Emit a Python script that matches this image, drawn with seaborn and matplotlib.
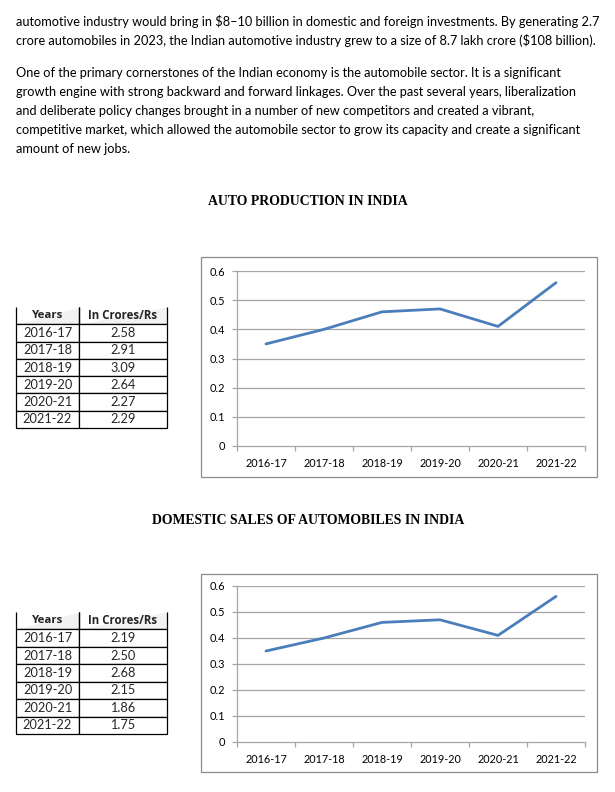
import matplotlib
matplotlib.use("Agg")
import matplotlib.pyplot as plt
import seaborn as sns
import pandas as pd
import numpy as np
from matplotlib.patches import Rectangle
from matplotlib.ticker import FixedLocator

sns.set_theme(style="white")
plt.rcParams['font.family'] = ['Lato', 'DejaVu Sans']

# ---------------- data ----------------
years = ["2016-17", "2017-18", "2018-19", "2019-20", "2020-21", "2021-22"]
production_line = [0.35, 0.40, 0.46, 0.47, 0.41, 0.56]
sales_line = [0.35, 0.40, 0.46, 0.47, 0.41, 0.56]
production_table = ["2.58", "2.91", "3.09", "2.64", "2.27", "2.29"]
sales_table = ["2.19", "2.50", "2.68", "2.15", "1.86", "1.75"]
table_header = ["Years", "In Crores/Rs"]
y_ticks = [0, 0.1, 0.2, 0.3, 0.4, 0.5, 0.6]
y_tick_labels = ["0", "0.1", "0.2", "0.3", "0.4", "0.5", "0.6"]
title1 = "AUTO PRODUCTION IN INDIA"
title2 = "DOMESTIC SALES OF AUTOMOBILES IN INDIA"
para_lines = [
    "automotive industry would bring in $8\u201310 billion in domestic and foreign investments. By generating 2.7",
    "crore automobiles in 2023, the Indian automotive industry grew to a size of 8.7 lakh crore ($108 billion).",
    "One of the primary cornerstones of the Indian economy is the automobile sector. It is a significant",
    "growth engine with strong backward and forward linkages. Over the past several years, liberalization",
    "and deliberate policy changes brought in a number of new competitors and created a vibrant,",
    "competitive market, which allowed the automobile sector to grow its capacity and create a significant",
    "amount of new jobs.",
]

W, H = 615, 792
fig = plt.figure(figsize=(W / 100, H / 100), dpi=100)
renderer = fig.canvas.get_renderer()

def rect(l, t, r, b):
    return [l / W, 1 - b / H, (r - l) / W, (b - t) / H]

# ---------------- paragraph text ----------------
para_y = [21.5, 40.5, 73, 92, 111, 130, 149]
t0 = fig.text(16 / W, 1 - para_y[0] / H, para_lines[0], fontsize=9, va="center", ha="left", color="black")
wpx = t0.get_window_extent(renderer).width
fs = 9 * 585 / wpx
t0.set_fontsize(fs)
for line, yy in zip(para_lines[1:], para_y[1:]):
    fig.text(16 / W, 1 - yy / H, line, fontsize=fs, va="center", ha="left", color="black")

# ---------------- titles ----------------
fig.text(308 / W, 1 - 202 / H, title1, fontsize=9.9, fontweight="bold",
         family="Liberation Serif", ha="center", va="center", color="black")
fig.text(308 / W, 1 - 520 / H, title2, fontsize=9.9, fontweight="bold",
         family="Liberation Serif", ha="center", va="center", color="black")

# ---------------- charts ----------------
GRID = "#a6a6a6"
LINE = "#4a7ebb"

def draw_chart(box, axrect, values):
    l, t, r, b = box
    fig.patches.append(Rectangle((l / W, 1 - b / H), (r - l) / W, (b - t) / H,
                                 transform=fig.transFigure, fill=False,
                                 edgecolor="#8c8c8c", linewidth=0.9, zorder=0))
    ax = fig.add_axes(axrect)
    df = pd.DataFrame({"Year": years, "Value": values})
    sns.lineplot(data=df, x="Year", y="Value", ax=ax, color=LINE, linewidth=2.0,
                 sort=False, zorder=3)
    ax.set_xlim(-0.5, len(years) - 0.5)
    ax.set_ylim(0, 0.6)
    ax.set_yticks(y_ticks)
    ax.set_yticklabels(y_tick_labels)
    ax.set_xticks(range(len(years)))
    ax.set_xticklabels(years)
    ax.xaxis.set_minor_locator(FixedLocator(np.arange(-0.5, len(years), 1.0)))
    ax.set_xlabel("")
    ax.set_ylabel("")
    for yv in y_ticks[1:]:
        ax.axhline(yv, color=GRID, linewidth=0.9, zorder=1)
    for s in ["top", "right"]:
        ax.spines[s].set_visible(False)
    for s in ["left", "bottom"]:
        ax.spines[s].set_color(GRID)
        ax.spines[s].set_linewidth(0.9)
    ax.tick_params(axis="y", which="major", length=3.5, width=0.9, color=GRID,
                   direction="out", pad=5, labelsize=7.9, labelcolor="black", left=True)
    ax.tick_params(axis="x", which="major", length=0, pad=8.5, labelsize=7.8,
                   labelcolor="black", bottom=True)
    ax.tick_params(axis="x", which="minor", length=3.5, width=0.9, color=GRID,
                   direction="out", bottom=True)
    ax.set_facecolor("none")
    ax.grid(False)
    return ax

draw_chart((201, 257, 597, 477), rect(237, 271, 585, 446), production_line)
draw_chart((201, 574, 597, 772), rect(237, 586, 585, 742), sales_line)

# ---------------- tables ----------------
header_target_px = [31, 69]

def draw_table(l, t, r, b, values):
    ax = fig.add_axes(rect(l, t, r, b))
    ax.axis("off")
    cell_text = [[y, v] for y, v in zip(years, values)]
    tb = ax.table(cellText=cell_text, colLabels=table_header, cellLoc="center",
                  colWidths=[63, 88], bbox=[0, 0, 1, 1])
    tb.auto_set_font_size(False)
    for (row, col), cell in tb.get_celld().items():
        cell.set_linewidth(0.9)
        cell.set_edgecolor("black")
        txt = cell.get_text()
        if row == 0:
            cell.set_facecolor("#f2f2f2")
            txt.set_family(["Open Sans", "DejaVu Sans"])
            txt.set_fontweight("bold")
            txt.set_fontsize(8.5)
            cell.visible_edges = "BLR"
        else:
            cell.set_facecolor("white")
            txt.set_fontsize(9.2)
    # fit header text widths to the reference
    for col in range(2):
        txt = tb[0, col].get_text()
        w = txt.get_window_extent(renderer).width
        if w > 0:
            txt.set_fontsize(txt.get_fontsize() * header_target_px[col] / w)

draw_table(16, 307, 167, 428, production_table)
draw_table(16, 612, 167, 734, sales_table)

fig.savefig("out.png", dpi=100, facecolor="white")
